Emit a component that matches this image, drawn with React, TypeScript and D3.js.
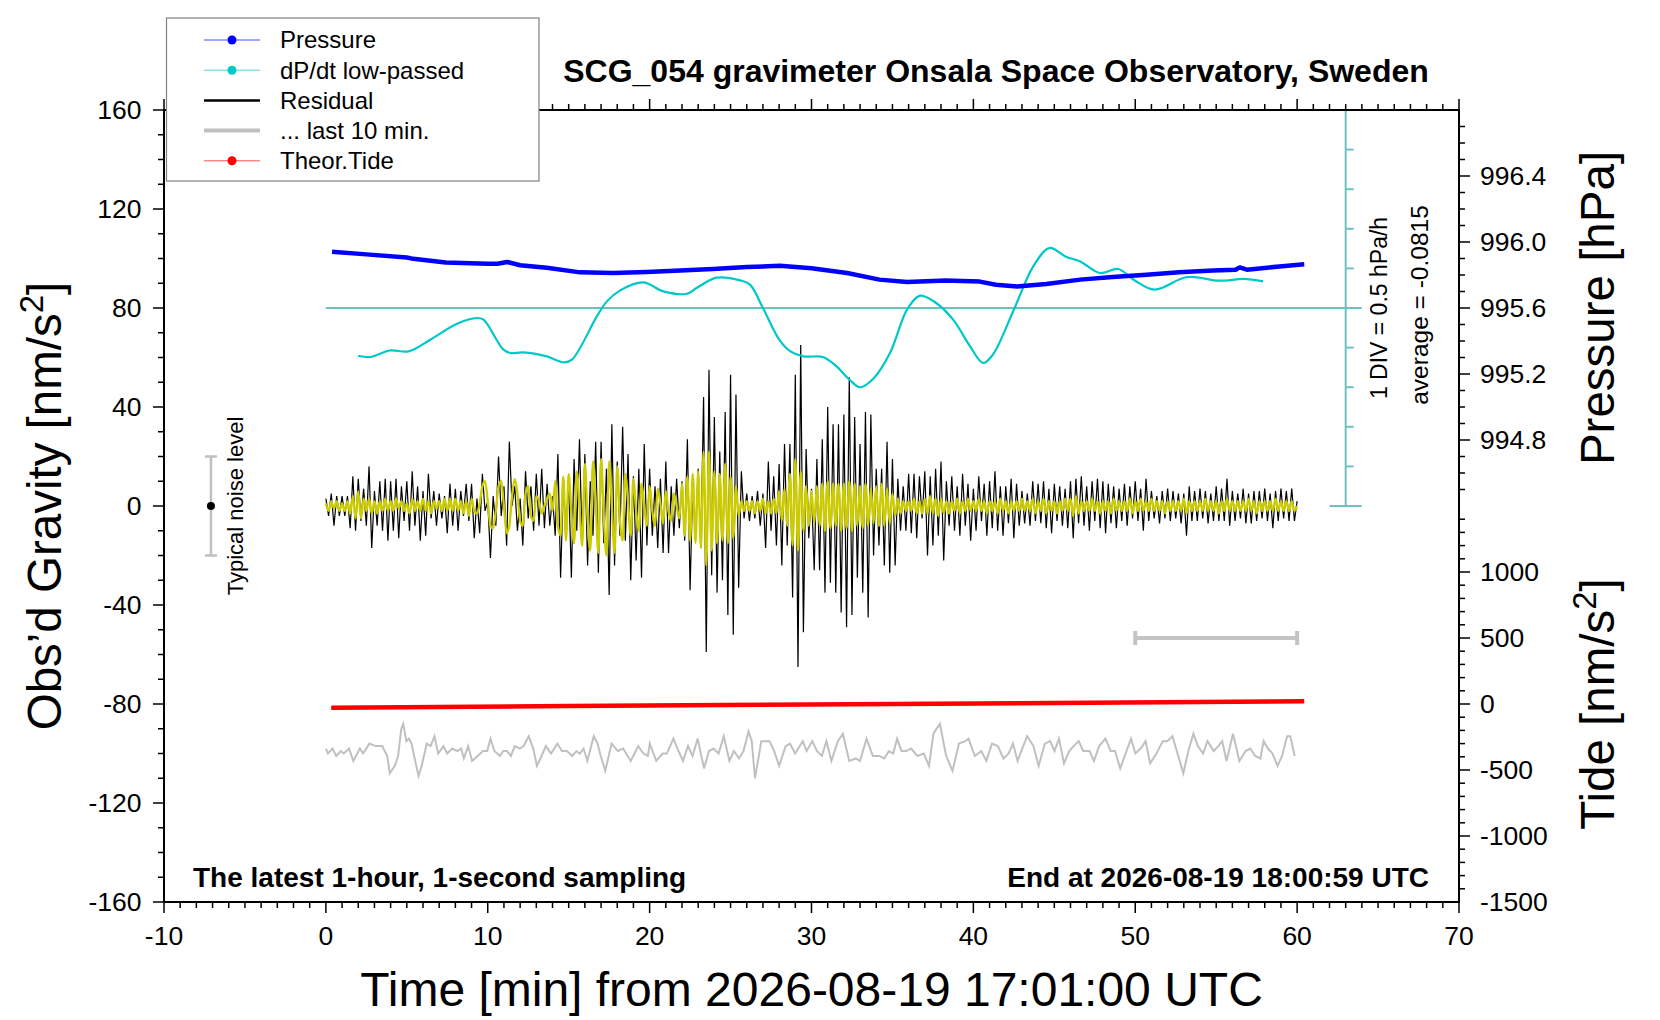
import React from 'react';
import * as d3 from 'd3';

// ---------- axis tick labels ----------
const timeTickLabels = [-10, 0, 10, 20, 30, 40, 50, 60, 70];
const gravityTickLabels = [-160, -120, -80, -40, 0, 40, 80, 120, 160];
const pressureTickLabels = [994.8, 995.2, 995.6, 996.0, 996.4];
const tideTickLabels = [-1500, -1000, -500, 0, 500, 1000];

// ---------- Pressure [hPa] ----------
const pressureTime = [0.38, 2.5, 5.0, 5.4, 7.4, 10.0, 10.6, 11.2, 12.0, 13.65, 15.7, 17.75, 19.8, 21.9, 23.9, 26.0, 28.05, 30.0, 32.2, 34.2, 35.9, 38.3, 40.4, 41.4, 42.7, 44.5, 46.6, 48.6, 50.7, 52.7, 54.8, 56.2, 56.45, 56.9, 58.9, 60.44];
const pressureValue = [995.941, 995.925, 995.906, 995.898, 995.876, 995.868, 995.868, 995.879, 995.859, 995.844, 995.816, 995.812, 995.818, 995.828, 995.836, 995.848, 995.856, 995.841, 995.812, 995.772, 995.758, 995.767, 995.760, 995.741, 995.731, 995.746, 995.772, 995.788, 995.802, 995.816, 995.828, 995.832, 995.846, 995.832, 995.852, 995.865];

// ---------- dP/dt low-passed [hPa/h] ----------
const dpdtAverage = -0.0815;
const dpdtDiv = 0.5;
const dpdtTime = [1.99, 2.75, 3.98, 5.1, 6.45, 8.1, 9.33, 9.74, 10.97, 11.4, 12.2, 13.65, 14.7, 15.2, 16.74, 17.36, 18.18, 19.6, 20.85, 22.3, 22.9, 24.15, 25.6, 26.2, 27.0, 28.05, 28.7, 29.5, 30.7, 31.55, 32.3, 33.0, 33.8, 34.85, 35.9, 36.7, 37.7, 38.75, 39.8, 40.6, 41.2, 42.5, 43.7, 44.7, 45.75, 46.6, 47.8, 48.95, 49.9, 51.2, 53.2, 55.2, 56.7, 57.9];
const dpdtValue = [-0.684, -0.700, -0.617, -0.630, -0.482, -0.280, -0.208, -0.229, -0.608, -0.650, -0.642, -0.693, -0.768, -0.734, -0.188, 0.002, 0.141, 0.242, 0.128, 0.099, 0.171, 0.301, 0.267, 0.213, -0.082, -0.494, -0.630, -0.693, -0.700, -0.819, -0.978, -1.082, -0.978, -0.650, -0.103, 0.074, -0.018, -0.229, -0.566, -0.776, -0.671, -0.103, 0.444, 0.676, 0.562, 0.507, 0.360, 0.411, 0.276, 0.150, 0.310, 0.263, 0.285, 0.254];

// ---------- Residual [nm/s^2], one value every 10 s from t = 0 ----------
const residualStep = 1 / 6;
const residualValue = [
  3, -4, 5, -8, 4, -4, 4, -4, 4, -9, 12, -10, 11, -6, 7, -8, 16, -17, 6, -8, 10, -10, 11, -14,
  10, -10, 11, -13, 8, -6, 10, -10, 14, -8, 8, -14, 6, -12, 13, -5, 6, -8, 5, -5, 4, -11, 9, -8,
  7, -10, 6, -4, 9, -6, 9, -13, 3, -11, 13, -2, 2, -21, 4, -8, 20, -4, 8, -16, 26, 0, 8, -10,
  3, -16, 14, -5, 8, -10, 13, -8, 15, -9, 9, -8, 4, -12, 21, -29, 8, -10, 10, -29, 19, -10, 27, -16,
  21, -24, 10, -12, 26, -27, 26, -15, 15, -36, 33, -24, 18, -12, 32, -14, 21, -30, 12, -22, 15, -29, 25, -16,
  15, -12, 8, -17, 11, -19, 18, -19, 8, -12, 11, -9, 10, -14, 27, -34, 10, -12, 15, -17, 44, -59, 55, -28,
  36, -35, 22, -30, 38, -44, 53, -52, 45, -33, 14, -5, 5, -6, 4, -5, 6, -8, 5, -17, 18, -10, 12, -16,
  17, -24, 25, -16, 25, -37, 53, -65, 65, -51, 23, -13, 7, -26, 19, -26, 27, -35, 40, -31, 33, -35, 33, -43,
  37, -49, 52, -44, 36, -29, 25, -35, 38, -45, 37, -20, 15, -16, 15, -24, 26, -27, 19, -24, 11, -10, 8, -10,
  13, -11, 13, -13, 12, -5, 14, -20, 12, -16, 15, -12, 18, -22, 10, -8, 12, -10, 8, -12, 13, -8, 9, -14,
  7, -10, 12, -6, 9, -12, 10, -9, 14, -10, 8, -12, 8, -7, 11, -13, 9, -8, 6, -7, 5, -8, 10, -6,
  9, -7, 10, -9, 7, -11, 9, -6, 8, -8, 7, -9, 10, -13, 11, -7, 12, -8, 8, -10, 10, -6, 11, -9,
  10, -11, 9, -7, 8, -9, 7, -6, 9, -8, 8, -5, 10, -6, 7, -10, 11, -6, 6, -5, 4, -7, 6, -5,
  7, -6, 6, -5, 5, -7, 5, -12, 8, -6, 6, -6, 7, -5, 6, -7, 5, -6, 8, -6, 7, -6, 11, -8,
  6, -6, 5, -5, 7, -7, 5, -7, 6, -6, 6, -5, 7, -6, 5, -9, 6, -6, 7, -5, 6, -6, 7, -6,
  2,
];

// ---------- Band-passed residual (yellow), one value every 10 s ----------
const filteredValue = [
  1, -2, 2, -1, 2, -2, 1, -2, 2, -3, 4, -5, 6, -5, 3, -2, 3, -3, 2, -3, 2, -2, 3, -2,
  2, -2, 3, -1, 2, -2, 1, -3, 3, -2, 2, -2, 3, -2, 2, -3, 2, -1, 2, -2, 3, -2, 3, -2,
  3, -2, 2, -3, 2, -4, 3, -2, -3, 1, 8, 10, 2, -8, -9, -2, 8, 10, 0, -11, -8, 4, 11, 5,
  -6, -8, 5, 8, -4, -6, 4, 2, -3, 0, 3, 5, -2, 10, -8, -12, 12, -14, 13, -3, -15, 14, 0, -16,
  17, -5, -18, 18, 2, -19, 19, -4, -20, 18, 0, -19, 16, -6, -14, 13, 2, -12, 11, -2, -10, 9, 0, -8,
  8, -2, -8, 7, 1, -7, 6, -2, -6, 5, 0, -5, 9, -12, 12, -14, 13, -15, 14, -17, 22, -24, 22, -18,
  14, -15, 13, -14, 17, -15, 12, -13, 8, -4, 2, -2, 2, -2, 2, -3, 2, -2, 3, -3, 2, -3, 3, -3,
  6, -6, 7, -8, 13, -16, 19, -18, 14, -10, 8, -8, 6, -7, 8, -8, 9, -10, 10, -9, 9, -8, 9, -10,
  9, -9, 10, -10, 9, -8, 8, -9, 9, -8, 7, -7, 8, -8, 9, -8, 7, -7, 5, -4, 3, -3, 2, -2,
  2, -2, 3, -3, 2, -3, 3, -3, 4, -3, 3, -4, 3, -3, 2, -3, 2, -2, 3, -3, 2, -2, 3, -2,
  2, -2, 3, -2, 2, -3, 2, -2, 2, -3, 3, -2, 2, -3, 2, -2, 2, -2, 3, -2, 2, -2, 3, -3,
  2, -2, 3, -3, 2, -2, 2, -3, 2, -2, 3, -2, 3, -4, 4, -3, 2, -2, 2, -2, 3, -2, 2, -3,
  2, -2, 2, -3, 3, -2, 2, -2, 2, -2, 3, -3, 2, -2, 3, -2, 2, -2, 3, -2, 2, -2, 2, -3,
  2, -2, 2, -2, 2, -2, 3, -3, 2, -2, 2, -2, 2, -2, 3, -2, 2, -2, 2, -3, 2, -2, 3, -2,
  2, -2, 2, -2, 2, -2, 3, -2, 2, -3, 2, -2, 2, -2, 2, -2, 3, -2, 2, -2, 2, -2, 2, -2,
  0,
];

// ---------- ... last 10 min (gray), drawn stretched over 0-60 ----------
const lastTime = [0.0, 0.13, 0.41, 0.64, 0.92, 1.11, 1.43, 1.70, 2.10, 2.30, 2.69, 3.08, 3.48, 3.79, 3.95, 4.26, 4.46, 4.66, 4.78, 4.97, 5.13, 5.29, 5.45, 5.72, 5.92, 6.23, 6.47, 6.71, 6.94, 7.26, 7.49, 7.81, 8.12, 8.36, 8.52, 8.79, 9.03, 9.38, 9.70, 9.97, 10.17, 10.41, 10.76, 10.96, 11.19, 11.43, 11.67, 11.98, 12.22, 12.53, 12.81, 13.04, 13.32, 13.59, 13.91, 14.30, 14.58, 14.89, 15.21, 15.48, 15.68, 15.92, 16.15, 16.55, 16.78, 16.98, 17.26, 17.65, 18.04, 18.36, 18.83, 19.30, 19.62, 19.89, 20.01, 20.41, 20.80, 21.07, 21.47, 21.78, 22.06, 22.37, 22.65, 22.97, 23.36, 23.67, 23.95, 24.26, 24.58, 24.93, 25.21, 25.52, 25.80, 26.11, 26.31, 26.51, 26.90, 27.22, 27.41, 27.69, 28.00, 28.40, 28.67, 28.99, 29.46, 29.70, 30.05, 30.33, 30.64, 30.92, 31.23, 31.63, 31.94, 32.33, 32.73, 33.00, 33.40, 33.79, 34.19, 34.50, 34.78, 35.05, 35.29, 35.56, 35.84, 36.15, 36.55, 36.94, 37.26, 37.53, 37.93, 38.32, 38.71, 39.11, 39.50, 39.70, 40.09, 40.49, 40.80, 41.15, 41.51, 41.86, 42.18, 42.45, 42.73, 42.96, 43.32, 43.71, 44.03, 44.42, 44.74, 45.01, 45.29, 45.60, 45.92, 46.19, 46.51, 46.78, 47.18, 47.45, 47.77, 48.16, 48.48, 48.75, 49.07, 49.46, 49.74, 50.01, 50.33, 50.64, 50.92, 51.31, 51.70, 51.98, 52.30, 52.61, 52.97, 53.28, 53.59, 53.87, 54.19, 54.46, 54.85, 55.13, 55.37, 55.64, 56.04, 56.43, 56.82, 57.10, 57.41, 57.73, 57.93, 58.20, 58.48, 58.79, 59.07, 59.38, 59.58, 59.85];
const lastValue = [-98, -100, -98, -101, -99, -100, -98, -103, -98, -100, -96, -97, -97, -101, -108, -105, -101, -90, -88, -95, -94, -96, -101, -109, -105, -96, -97, -93, -100, -97, -100, -98, -99, -98, -102, -97, -103, -101, -99, -99, -94, -99, -101, -99, -99, -101, -97, -98, -97, -93, -98, -105, -101, -97, -100, -96, -99, -99, -101, -99, -100, -98, -103, -93, -96, -101, -107, -96, -99, -98, -103, -97, -100, -101, -96, -103, -100, -100, -94, -99, -103, -97, -101, -94, -106, -99, -98, -100, -93, -103, -99, -102, -99, -91, -95, -110, -95, -95, -95, -99, -105, -97, -96, -100, -95, -99, -95, -99, -101, -95, -103, -95, -92, -103, -102, -103, -94, -101, -101, -102, -99, -100, -94, -99, -99, -98, -101, -100, -105, -92, -88, -101, -107, -96, -95, -94, -101, -99, -103, -96, -97, -102, -100, -96, -103, -99, -93, -97, -105, -96, -95, -99, -94, -104, -99, -97, -95, -99, -99, -103, -97, -94, -99, -99, -106, -99, -94, -100, -98, -95, -104, -100, -95, -95, -93, -100, -108, -99, -92, -97, -100, -95, -99, -97, -95, -103, -92, -103, -99, -98, -101, -102, -95, -98, -100, -105, -101, -93, -93, -101];
const lastWindowStart = 50;
const lastWindowEnd = 60;
const lastWindowLevel = 500; // on the tide scale

// ---------- Theoretical tide [nm/s^2] ----------
const tideTime = [0.33, 15, 30, 45, 60.44];
const tideValue = [-28, -16, -4, 8, 20];

// ---------- noise level marker ----------
const noiseTime = -7.1;
const noiseHalfRange = 20;
const dpdtBarTime = 63;

const legendItems = ['Pressure', 'dP/dt low-passed', 'Residual', '... last 10 min.', 'Theor.Tide'];

const FONT = '"Liberation Sans", Arial, Helvetica, sans-serif';

export default function App() {
  const left = 164, right = 1459, top = 110, bottom = 902;
  const x = d3.scaleLinear().domain([-10, 70]).range([left, right]);
  const yG = d3.scaleLinear().domain([-160, 160]).range([bottom, top]);
  const mid = yG(0);
  const yP = d3.scaleLinear().domain([994.4, 996.8]).range([mid, top]);
  const yD = d3.scaleLinear().domain([dpdtAverage - 5 * dpdtDiv, dpdtAverage + 5 * dpdtDiv]).range([mid, top]);
  const yT = d3.scaleLinear().domain([-1500, 1500]).range([bottom, mid]);

  const pressurePath = d3.line<number>().x((_, i) => x(pressureTime[i])).y(v => yP(v))(pressureValue) || '';
  const dpdtPath = d3.line<number>().x((_, i) => x(dpdtTime[i])).y(v => yD(v)).curve(d3.curveCatmullRom.alpha(0.5))(dpdtValue) || '';
  const residualPath = d3.line<number>().x((_, i) => x(i * residualStep)).y(v => yG(v))(residualValue) || '';
  const filteredPath = d3.line<number>().x((_, i) => x(i * residualStep)).y(v => yG(v)).curve(d3.curveMonotoneX)(filteredValue) || '';
  const lastPath = d3.line<number>().x((_, i) => x(lastTime[i])).y(v => yG(v))(lastValue) || '';
  const tidePath = d3.line<number>().x((_, i) => x(tideTime[i])).y(v => yT(v))(tideValue) || '';

  const minorTime = d3.range(-10, 71, 1);
  const minorG = d3.range(-160, 161, 10);
  const minorP = d3.range(9945, 9968).map(v => v / 10);
  const minorT = d3.range(-1400, 1500, 100);

  const barX = x(dpdtBarTime);
  const divTicks = d3.range(-5, 6);

  const txt = { fontFamily: FONT, fill: '#000' } as const;

  return (
    <svg width={1660} height={1020} style={{ position: 'absolute', left: 0, top: 0, background: '#fff' }} fontFamily={FONT}>
      <rect x={0} y={0} width={1660} height={1020} fill="#fff" />

      {/* dP/dt scale bar */}
      <g stroke="#6cc3bd" strokeWidth={2}>
        <line x1={barX} x2={barX} y1={yD.range()[1]} y2={yD.range()[0]} />
        {divTicks.map(k => {
          const yy = yD(dpdtAverage + k * dpdtDiv);
          if (Math.abs(k) === 5) return <line key={k} x1={barX - 16} x2={barX + 16} y1={yy} y2={yy} />;
          if (k === 0) return <line key={k} x1={x(0)} x2={barX + 16} y1={yy} y2={yy} />;
          return <line key={k} x1={barX} x2={barX + 8} y1={yy} y2={yy} />;
        })}
      </g>

      {/* data */}
      <path d={tidePath} fill="none" stroke="#ff0000" strokeWidth={4.5} />
      <path d={lastPath} fill="none" stroke="#c0c0c0" strokeWidth={2} />
      <g stroke="#c4c4c4" strokeWidth={4}>
        <line x1={x(lastWindowStart)} x2={x(lastWindowEnd)} y1={yT(lastWindowLevel)} y2={yT(lastWindowLevel)} />
        <line x1={x(lastWindowStart)} x2={x(lastWindowStart)} y1={yT(lastWindowLevel) - 7} y2={yT(lastWindowLevel) + 7} />
        <line x1={x(lastWindowEnd)} x2={x(lastWindowEnd)} y1={yT(lastWindowLevel) - 7} y2={yT(lastWindowLevel) + 7} />
      </g>
      <path d={residualPath} fill="none" stroke="#000" strokeWidth={1.2} />
      <path d={filteredPath} fill="none" stroke="#cccc00" strokeWidth={2.3} />
      <path d={dpdtPath} fill="none" stroke="#00c8c8" strokeWidth={2.2} />
      <path d={pressurePath} fill="none" stroke="#0000ff" strokeWidth={4.5} strokeLinejoin="round" />

      {/* noise marker */}
      <g stroke="#c0c0c0" strokeWidth={2.5}>
        <line x1={x(noiseTime)} x2={x(noiseTime)} y1={yG(noiseHalfRange)} y2={yG(-noiseHalfRange)} />
        <line x1={x(noiseTime) - 6} x2={x(noiseTime) + 6} y1={yG(noiseHalfRange)} y2={yG(noiseHalfRange)} />
        <line x1={x(noiseTime) - 6} x2={x(noiseTime) + 6} y1={yG(-noiseHalfRange)} y2={yG(-noiseHalfRange)} />
      </g>
      <circle cx={x(noiseTime)} cy={yG(0)} r={4} fill="#000" />
      <text transform={`translate(243,${yG(0)}) rotate(-90)`} textAnchor="middle" fontSize={22} {...txt}>Typical noise level</text>

      {/* frame */}
      <rect x={left} y={top} width={right - left} height={bottom - top} fill="none" stroke="#000" strokeWidth={2} />

      {/* ticks */}
      <g stroke="#000" strokeWidth={1.5}>
        {minorTime.map(t => {
          const len = t % 10 === 0 ? 11 : 6;
          return (
            <g key={t}>
              <line x1={x(t)} x2={x(t)} y1={bottom} y2={bottom + len} />
              <line x1={x(t)} x2={x(t)} y1={top} y2={top - len} />
            </g>
          );
        })}
        {minorG.map(v => {
          const len = v % 40 === 0 ? 11 : 6;
          return <line key={v} x1={left} x2={left - len} y1={yG(v)} y2={yG(v)} />;
        })}
        {minorP.map(v => {
          const major = pressureTickLabels.some(p => Math.abs(p - v) < 1e-6);
          return <line key={v} x1={right} x2={right + (major ? 11 : 6)} y1={yP(v)} y2={yP(v)} />;
        })}
        {minorT.map(v => {
          const len = v % 500 === 0 ? 11 : 6;
          return <line key={v} x1={right} x2={right + len} y1={yT(v)} y2={yT(v)} />;
        })}
      </g>

      {timeTickLabels.map(t => (
        <text key={t} x={x(t)} y={945} textAnchor="middle" fontSize={26.5} {...txt}>{t}</text>
      ))}
      {gravityTickLabels.map(v => (
        <text key={v} x={141.5} y={yG(v)} dy="0.35em" textAnchor="end" fontSize={26.5} {...txt}>{v}</text>
      ))}
      {pressureTickLabels.map(v => (
        <text key={v} x={1480} y={yP(v)} dy="0.35em" textAnchor="start" fontSize={26.5} {...txt}>{v.toFixed(1)}</text>
      ))}
      {tideTickLabels.map(v => (
        <text key={v} x={1480} y={yT(v)} dy="0.35em" textAnchor="start" fontSize={26.5} {...txt}>{v}</text>
      ))}

      {/* dP/dt annotation */}
      <text transform={`translate(1387,${yD(dpdtAverage)}) rotate(-90)`} textAnchor="middle" fontSize={23} {...txt}>1 DIV = {dpdtDiv} hPa/h</text>
      <text transform={`translate(1428,${yD(dpdtAverage) - 3}) rotate(-90)`} textAnchor="middle" fontSize={24.5} {...txt}>average = {dpdtAverage}</text>

      {/* axis titles */}
      <text x={(left + right) / 2} y={1006} textAnchor="middle" fontSize={48} {...txt}>Time [min] from 2026-08-19 17:01:00 UTC</text>
      <text transform={`translate(61,${mid}) rotate(-90)`} textAnchor="middle" fontSize={47.5} {...txt}>
        Obs’d Gravity [nm/s<tspan fontSize={33} dy={-18}>2</tspan><tspan dy={18}>]</tspan>
      </text>
      <text transform={`translate(1614,${(top + mid) / 2}) rotate(-90)`} textAnchor="middle" fontSize={47.5} {...txt}>Pressure [hPa]</text>
      <text transform={`translate(1614,${yT(0)}) rotate(-90)`} textAnchor="middle" fontSize={47.5} {...txt}>
        Tide [nm/s<tspan fontSize={33} dy={-18}>2</tspan><tspan dy={18}>]</tspan>
      </text>

      {/* title and notes */}
      <text x={996} y={82} textAnchor="middle" fontSize={32} fontWeight="bold" {...txt}>SCG_054 gravimeter Onsala Space Observatory, Sweden</text>
      <text x={193} y={887} textAnchor="start" fontSize={28} fontWeight="bold" {...txt}>The latest 1-hour, 1-second sampling</text>
      <text x={1429} y={887} textAnchor="end" fontSize={28} fontWeight="bold" {...txt}>End at 2026-08-19 18:00:59 UTC</text>

      {/* legend */}
      <rect x={166.5} y={18} width={372.5} height={163} fill="#fff" stroke="#808080" strokeWidth={1.2} />
      {legendItems.map((label, i) => {
        const yy = 40 + i * 30.2;
        let sample: React.ReactNode = null;
        if (i === 0) sample = (<g><line x1={204} x2={260} y1={yy} y2={yy} stroke="#4a4aff" strokeWidth={1} /><circle cx={232} cy={yy} r={4.5} fill="#0000ff" /></g>);
        if (i === 1) sample = (<g><line x1={204} x2={260} y1={yy} y2={yy} stroke="#50d6d6" strokeWidth={1} /><circle cx={232} cy={yy} r={4.5} fill="#00c8c8" /></g>);
        if (i === 2) sample = <line x1={204} x2={260} y1={yy} y2={yy} stroke="#000" strokeWidth={2.5} />;
        if (i === 3) sample = <line x1={204} x2={260} y1={yy} y2={yy} stroke="#c0c0c0" strokeWidth={4} />;
        if (i === 4) sample = (<g><line x1={204} x2={260} y1={yy} y2={yy} stroke="#ff5050" strokeWidth={1} /><circle cx={232} cy={yy} r={4.5} fill="#ff0000" /></g>);
        return (
          <g key={label}>
            {sample}
            <text x={280} y={yy} dy="0.35em" fontSize={24} {...txt}>{label}</text>
          </g>
        );
      })}
    </svg>
  );
}
